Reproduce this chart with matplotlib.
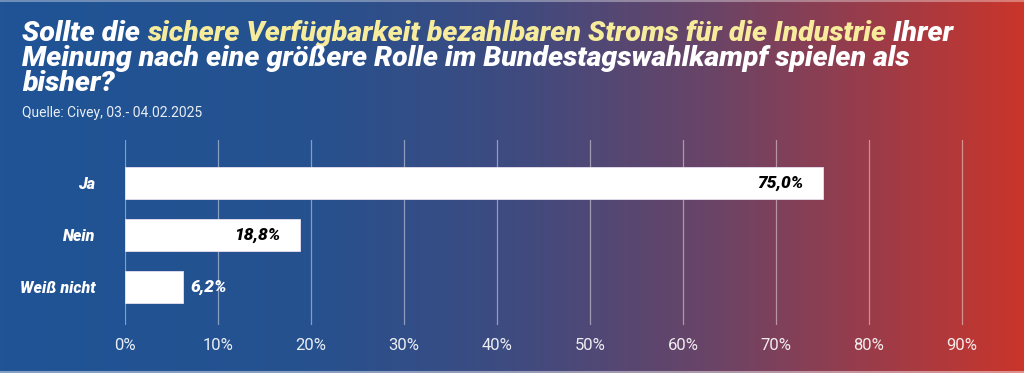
import numpy as np
import matplotlib.pyplot as plt
from matplotlib.colors import LinearSegmentedColormap

# data
categories = ["Ja", "Nein", "Weiß nicht"]
values = [75.0, 18.8, 6.2]
ticks = [0, 10, 20, 30, 40, 50, 60, 70, 80, 90]
tick_labels = [f"{t}%" for t in ticks]

title_parts = [
    ("Sollte die ", "white"),
    ("sichere Verfügbarkeit bezahlbaren Stroms für die Industrie", "#f6ec9c"),
    (" Ihrer", "white"),
]
title_rest = ["Meinung nach eine größere Rolle im Bundestagswahlkampf spielen als", "bisher?"]
source = "Quelle: Civey, 03.- 04.02.2025"

plt.rcParams['font.family'] = ['Roboto', 'DejaVu Sans']

W, H = 1024, 373
fig = plt.figure(figsize=(W / 100, H / 100), dpi=100)

# gradient background
bg = fig.add_axes([0, 0, 1, 1])
cmap = LinearSegmentedColormap.from_list("bg", [
    (0.0, "#1f5496"), (0.3, "#26518f"), (0.5, "#3e4b80"),
    (0.7, "#6b4466"), (0.85, "#9a3c4a"), (1.0, "#c9352b")])
grad = np.linspace(0, 1, 512).reshape(1, -1)
bg.imshow(grad, aspect="auto", cmap=cmap, extent=[0, 1, 0, 1])
bg.plot([0, 1], [0.997, 0.997], color="white", alpha=0.35, lw=1.5)
bg.plot([0, 1], [0.004, 0.004], color="white", alpha=0.45, lw=1.5)
bg.set_xlim(0, 1)
bg.set_ylim(0, 1)
bg.axis("off")

# main chart
ax = fig.add_axes([125 / W, 1 - 325 / H, 885 / W, 185 / H])
ax.set_facecolor("none")
y = np.arange(len(categories))
ax.barh(y, values, height=0.6, color="white", edgecolor="#e8e0f0", lw=0.6, zorder=3)
ax.set_xlim(0, 885 / 93 * 10)
ax.set_ylim(2 + 38 / 52, -43 / 52)
for t in ticks:
    ax.axvline(t, color="white", alpha=0.45, lw=0.9, zorder=1)
ax.set_xticks(ticks)
ax.set_xticklabels(tick_labels, color="white", fontsize=12, alpha=0.9)
ax.set_yticks(y)
ax.set_yticklabels(categories, color="white", fontsize=11.5, fontweight="black", style="italic")
ax.tick_params(axis="both", length=0)
ax.tick_params(axis="x", pad=9)
ax.tick_params(axis="y", pad=21.5)
for s in ax.spines.values():
    s.set_visible(False)

for yi, v in zip(y, values):
    lbl = f"{v:.1f}%".replace(".", ",")
    if v > 10:
        ax.text(v - 2.1, yi, lbl, ha="right", va="center", color="black",
                fontsize=12.5, fontweight="black", style="italic", zorder=4)
    else:
        ax.text(v + 0.8, yi, lbl, ha="left", va="center", color="white",
                fontsize=12.5, fontweight="black", style="italic", zorder=4)

# title with coloured segment
renderer = fig.canvas.get_renderer()
x0 = 22 / W
xc = x0
for txt, col in title_parts:
    t = fig.text(xc, 1 - 41 / H, txt, color=col, fontsize=20.5, fontweight="black",
                 style="italic", ha="left", va="baseline")
    bb = t.get_window_extent(renderer)
    xc = bb.x1 / W
for i, line in enumerate(title_rest):
    fig.text(x0, 1 - (66 + 25 * i) / H, line, color="white", fontsize=20.5,
             fontweight="black", style="italic", ha="left", va="baseline")

fig.text(x0, 1 - 117 / H, source, color="white", alpha=0.9, fontsize=10, ha="left", va="baseline")

fig.savefig("out.png", dpi=100)
